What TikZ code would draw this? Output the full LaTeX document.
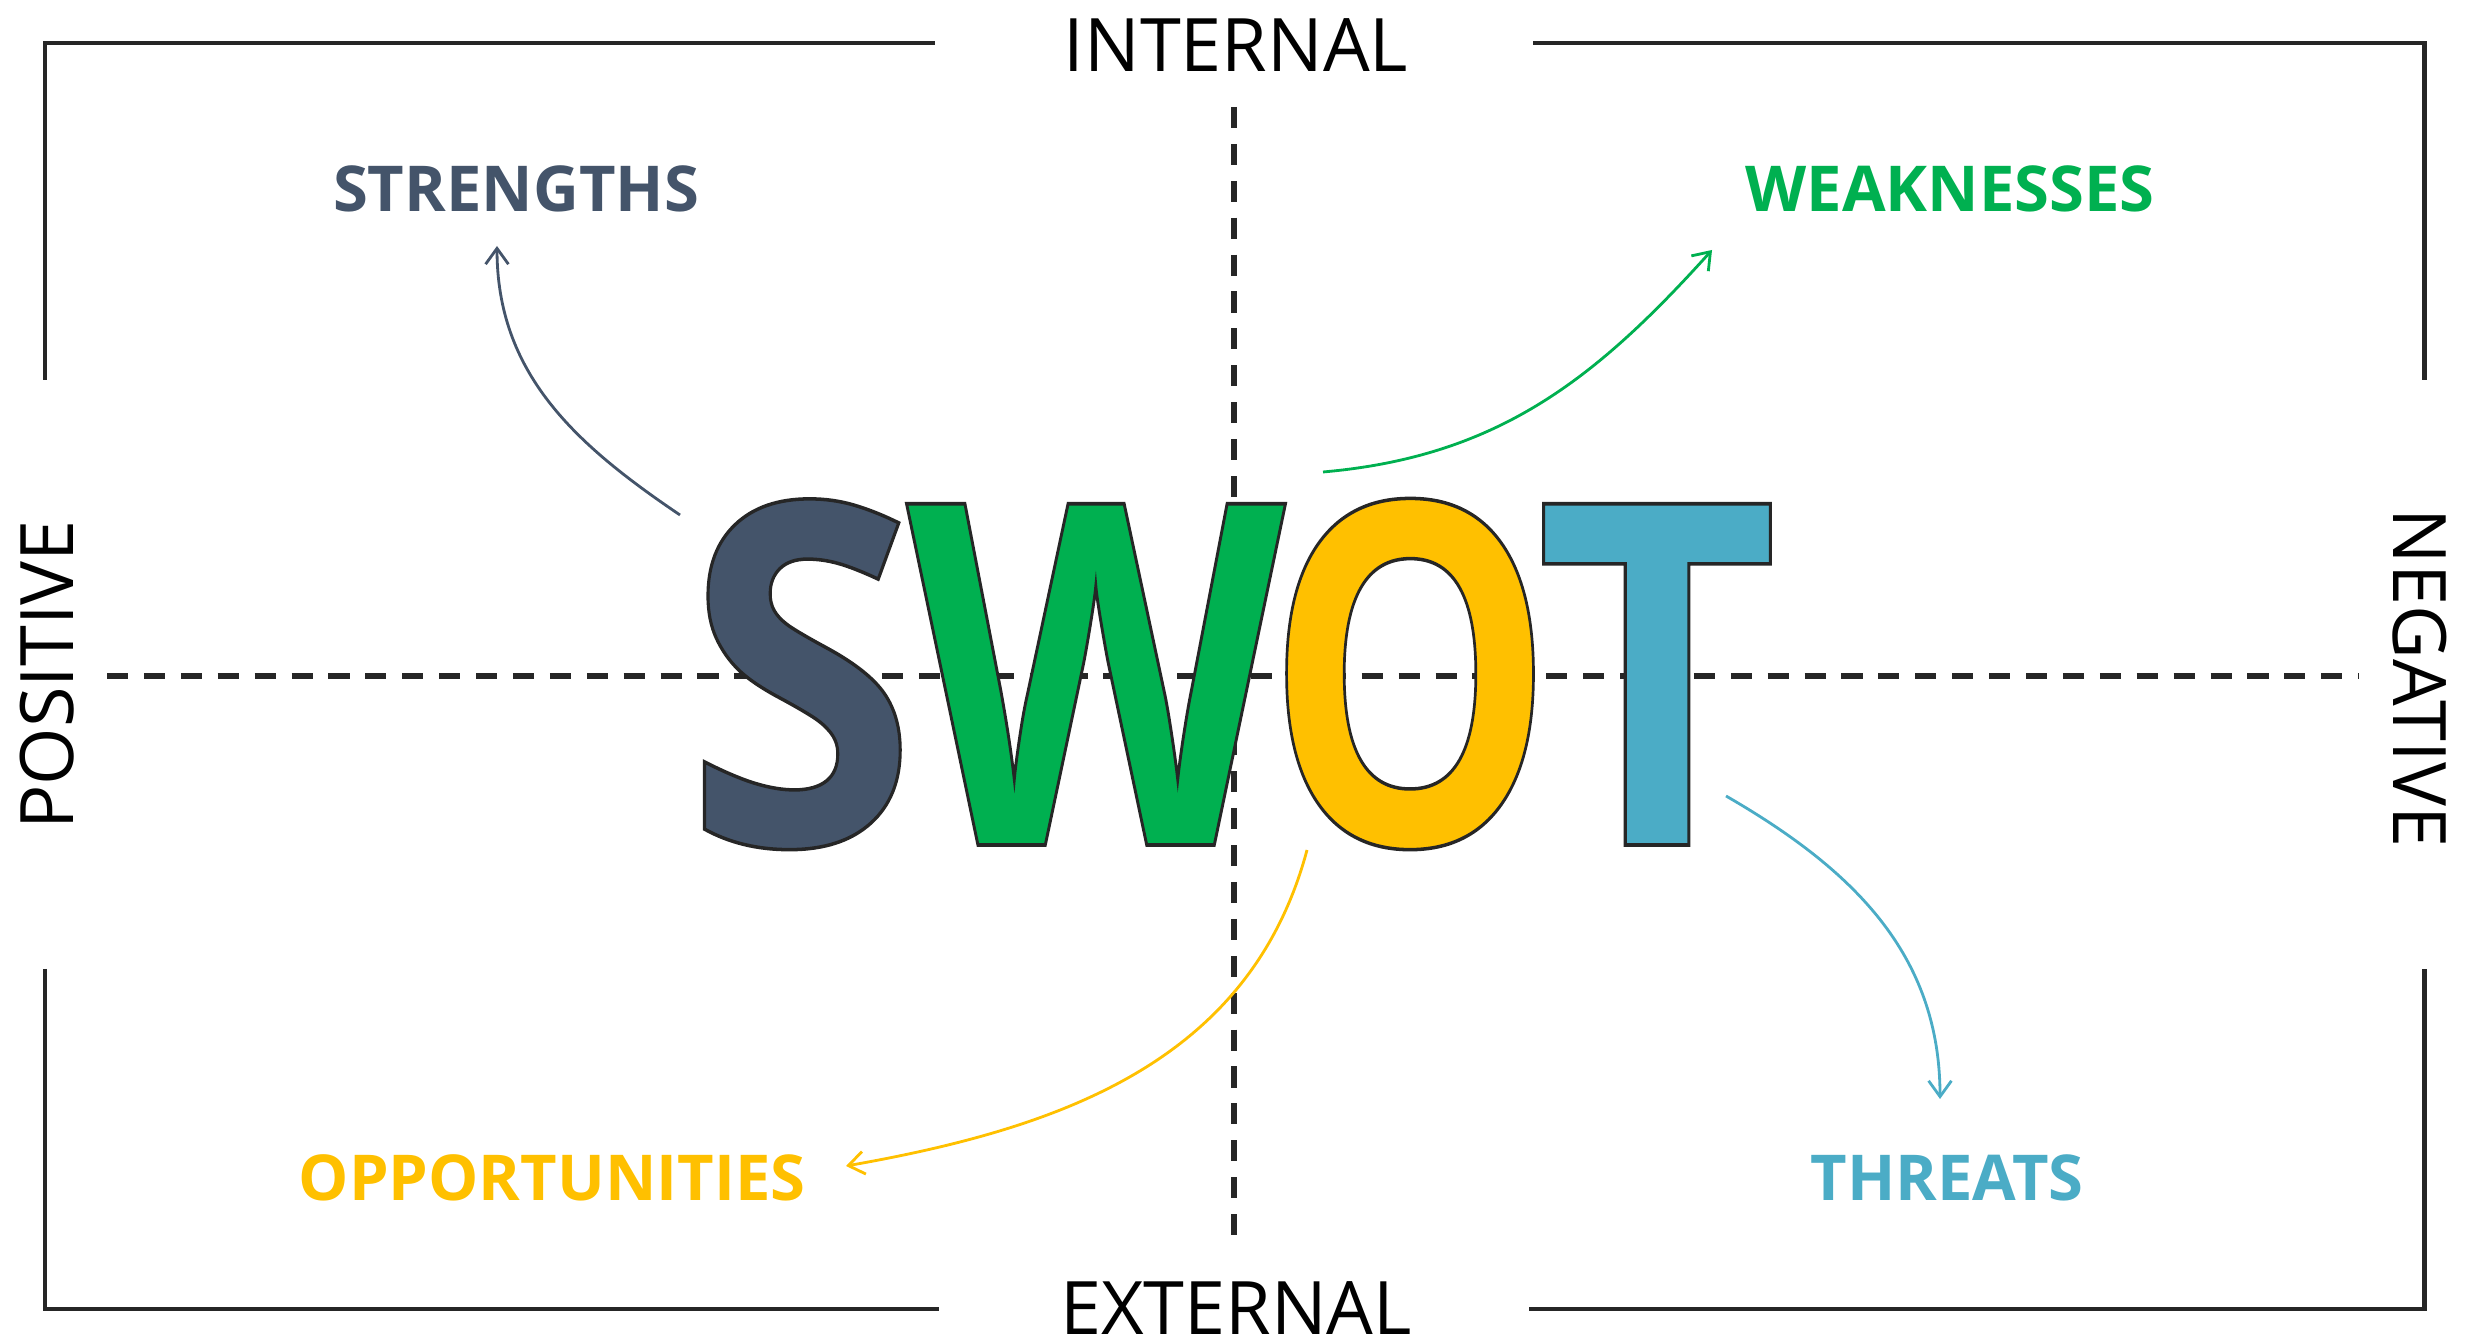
\documentclass[tikz,border=0pt]{standalone}
\usepackage{fontspec}
\setmainfont{Open Sans}
\usetikzlibrary{arrows.meta}
\pgfdeclarelayer{edgelayer}
\pgfdeclarelayer{nodelayer}
\pgfsetlayers{edgelayer,nodelayer,main}
\definecolor{frame_gray}{HTML}{262626}
\definecolor{slate}{HTML}{44546A}
\definecolor{leaf}{HTML}{00B050}
\definecolor{amber}{HTML}{FFC000}
\definecolor{aqua}{HTML}{4BACC6}
\newcommand{\outlined}[1]{\special{pdf:literal direct 2 Tr 1 w 0.15 0.15 0.15 RG}#1\special{pdf:literal direct 0 Tr}}
\tikzstyle{none}=[inner sep=0pt]
\tikzstyle{frame_line}=[-,draw=frame_gray,line width=1.4pt]
\tikzstyle{axis_line}=[-,draw=frame_gray,line width=1.5pt,dash pattern=on 6pt off 4.5pt]
\tikzstyle{side_label}=[inner sep=0pt,anchor=base,font=\fontsize{21}{24}\selectfont,text=black]
\tikzstyle{quadrant_label}=[inner sep=0pt,anchor=base,font=\fontsize{18}{21}\selectfont\bfseries]
\tikzstyle{big_letter}=[inner sep=4pt,anchor=base,font=\fontsize{136}{140}\selectfont\bfseries]
\tikzstyle{pointer}=[-{Straight Barb[length=4.5pt,width=6.5pt]},line width=0.8pt]

\begin{document}
\begin{tikzpicture}
	\useasboundingbox (0,0) rectangle (24.78,13.40);
	\begin{pgfonlayer}{nodelayer}
		\node [style=side_label] (0) at (12.36, 12.68) {INTERNAL};
		\node [style=side_label] (1) at (12.36, 0.06) {EXTERNAL};
		\node [style=side_label, rotate=90] (2) at (0.73, 6.65) {POSITIVE};
		\node [style=side_label, rotate=-90] (3) at (23.93, 6.62) {NEGATIVE};
		\node [style=quadrant_label, text=slate] (4) at (5.16, 11.285) {STRENGTHS};
		\node [style=quadrant_label, text=leaf] (5) at (19.50, 11.285) {WEAKNESSES};
		\node [style=quadrant_label, text=amber] (6) at (5.52, 1.40) {OPPORTUNITIES};
		\node [style=quadrant_label, text=aqua] (7) at (19.47, 1.40) {THREATS};
		\node [style=big_letter, text=slate] (8) at (8.01, 4.95) {\scalebox{0.88}[1]{\outlined{S}}};
		\node [style=big_letter, text=leaf] (9) at (10.96, 4.95) {\scalebox{0.82}[1]{\outlined{W}}};
		\node [style=big_letter, text=amber] (10) at (14.10, 4.95) {\scalebox{0.76}[1]{\outlined{O}}};
		\node [style=big_letter, text=aqua] (11) at (16.57, 4.95) {\scalebox{0.88}[1]{\outlined{T}}};
		\node [style=none] (12) at (0.45, 9.60) {};
		\node [style=none] (13) at (0.45, 12.97) {};
		\node [style=none] (14) at (9.35, 12.97) {};
		\node [style=none] (15) at (15.33, 12.97) {};
		\node [style=none] (16) at (24.24, 12.97) {};
		\node [style=none] (17) at (24.24, 9.60) {};
		\node [style=none] (18) at (0.45, 3.71) {};
		\node [style=none] (19) at (0.45, 0.31) {};
		\node [style=none] (20) at (9.39, 0.31) {};
		\node [style=none] (21) at (15.29, 0.31) {};
		\node [style=none] (22) at (24.24, 0.31) {};
		\node [style=none] (23) at (24.24, 3.71) {};
		\node [style=none] (24) at (1.07, 6.64) {};
		\node [style=none] (25) at (23.59, 6.64) {};
		\node [style=none] (26) at (12.34, 12.33) {};
		\node [style=none] (27) at (12.34, 0.97) {};
		\node [style=none] (28) at (6.80, 8.25) {};
		\node [style=none] (29) at (4.97, 10.94) {};
		\node [style=none] (30) at (13.23, 8.68) {};
		\node [style=none] (31) at (17.12, 10.90) {};
		\node [style=none] (32) at (13.07, 4.90) {};
		\node [style=none] (33) at (8.46, 1.74) {};
		\node [style=none] (34) at (17.26, 5.44) {};
		\node [style=none] (35) at (19.40, 2.41) {};
	\end{pgfonlayer}
	\begin{pgfonlayer}{edgelayer}
		\draw [style=frame_line] (12.center) to (13.center) to (14.center);
		\draw [style=frame_line] (15.center) to (16.center) to (17.center);
		\draw [style=frame_line] (18.center) to (19.center) to (20.center);
		\draw [style=frame_line] (21.center) to (22.center) to (23.center);
		\draw [style=axis_line] (24.center) to (25.center);
		\draw [style=axis_line] (26.center) to (27.center);
		\draw [style=pointer, draw=slate, out=146, in=-90] (28.center) to (29.center);
		\draw [style=pointer, draw=leaf, out=5, in=-132] (30.center) to (31.center);
		\draw [style=pointer, draw=amber, out=-105, in=10] (32.center) to (33.center);
		\draw [style=pointer, draw=aqua, out=-30, in=90] (34.center) to (35.center);
	\end{pgfonlayer}
\end{tikzpicture}
\end{document}
